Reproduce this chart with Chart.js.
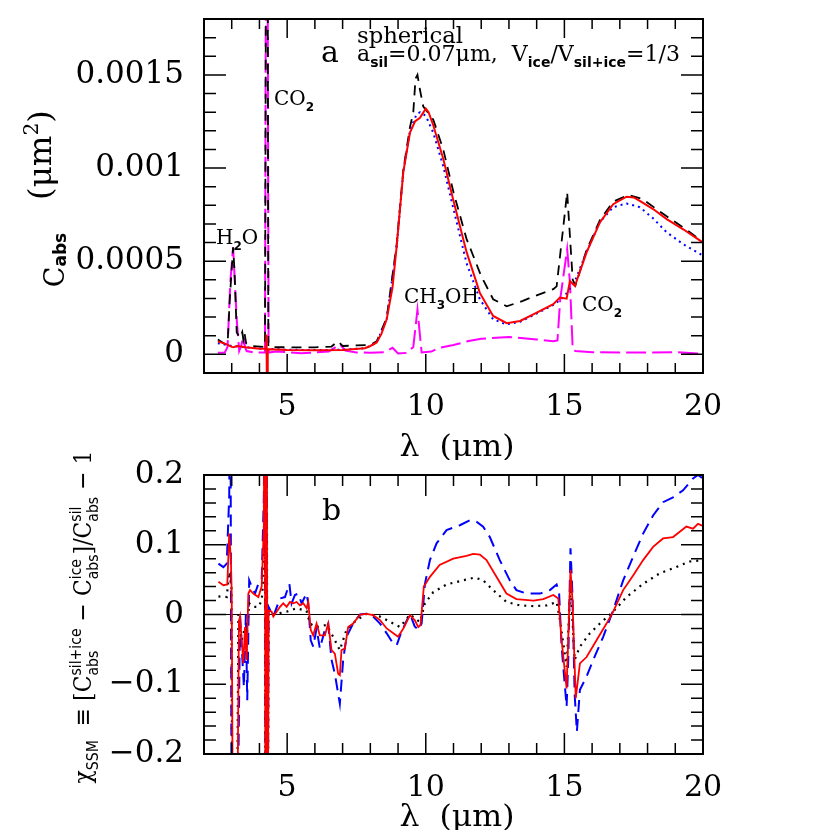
<!DOCTYPE html>
<html>
<head>
<meta charset="utf-8">
<script src="https://cdn.jsdelivr.net/npm/chart.js@4/dist/chart.umd.min.js"></script>
<style>
  body { margin: 0; background: #fff; width: 830px; height: 830px; overflow: hidden; position: relative; }
  #topWrap { position: absolute; left: 0; top: 0; width: 830px; height: 460px; }
  #botWrap { position: absolute; left: 0; top: 450px; width: 830px; height: 380px; }
</style>
</head>
<body>
<div id="topWrap"><canvas id="topChart" width="830" height="460"></canvas></div>
<div id="botWrap"><canvas id="botChart" width="830" height="380"></canvas></div>
<script>
// ---- panel a : C_abs (um^2) ----
const redTopX = [2.5, 2.8, 3.0, 3.06, 3.2, 3.5, 4.0, 4.23, 4.255, 4.275, 4.30, 5.0, 6.0, 7.0, 7.8, 8.0, 8.23, 8.4, 8.59, 8.8, 8.95, 9.19, 9.43, 9.61, 9.79, 9.92, 10.0, 10.1, 10.27, 10.63, 10.99, 11.47, 11.95, 12.43, 12.92, 13.4, 13.88, 14.6, 14.84, 15.08, 15.2, 15.38, 15.8, 16.28, 16.76, 17.24, 17.5, 17.72, 18.2, 18.69, 19.3, 20.0];
const redTopY = [0.70e-4, 0.55e-4, 0.40e-4, 0.38e-4, 0.45e-4, 0.38e-4, 0.30e-4, 0.30e-4, 1.07e-4, -3e-4, 0.28e-4, 0.23e-4, 0.22e-4, 0.24e-4, 0.33e-4, 0.45e-4, 0.64e-4, 1.1e-4, 1.88e-4, 3.6e-4, 5.8e-4, 9.8e-4, 11.9e-4, 12.5e-4, 12.7e-4, 13.0e-4, 13.2e-4, 13.0e-4, 12.3e-4, 10.5e-4, 8.3e-4, 5.5e-4, 3.3e-4, 2.06e-4, 1.67e-4, 1.79e-4, 2.15e-4, 2.69e-4, 3.05e-4, 2.99e-4, 3.94e-4, 3.67e-4, 5.47e-4, 7.08e-4, 8.06e-4, 8.46e-4, 8.42e-4, 8.24e-4, 7.8e-4, 7.26e-4, 6.7e-4, 6.0e-4];

const blackTopX = [2.5, 2.75, 2.85, 2.93, 3.05, 3.1, 3.18, 3.3, 3.38, 3.42, 3.46, 3.52, 3.7, 4.2, 4.25, 4.29, 4.32, 5.0, 6.0, 6.6, 6.83, 7.0, 7.5, 8.0, 8.23, 8.59, 8.95, 9.19, 9.43, 9.55, 9.63, 9.7, 9.79, 9.91, 10.27, 10.63, 11.0, 11.47, 12.0, 12.43, 12.92, 13.5, 14.0, 14.6, 14.72, 15.1, 15.3, 15.4, 15.8, 16.28, 16.76, 17.3, 17.8, 18.7, 19.3, 20.0];
const blackTopY = [0.80e-4, 0.55e-4, 0.55e-4, 2.96e-4, 5.75e-4, 4.5e-4, 1.18e-4, 0.9e-4, 1.2e-4, 0.8e-4, 1.15e-4, 0.6e-4, 0.45e-4, 0.4e-4, 30e-4, 30e-4, 0.4e-4, 0.38e-4, 0.38e-4, 0.42e-4, 0.7e-4, 0.45e-4, 0.48e-4, 0.5e-4, 0.7e-4, 1.95e-4, 5.9e-4, 9.9e-4, 12.2e-4, 13.0e-4, 14.8e-4, 15.0e-4, 14.2e-4, 13.3e-4, 12.6e-4, 11.0e-4, 8.7e-4, 6.2e-4, 4.2e-4, 2.96e-4, 2.58e-4, 2.87e-4, 3.17e-4, 3.5e-4, 3.65e-4, 8.7e-4, 4.0e-4, 3.7e-4, 5.6e-4, 7.2e-4, 8.2e-4, 8.55e-4, 8.35e-4, 7.4e-4, 6.8e-4, 6.04e-4];

const blueTopX = [2.5, 3.0, 3.5, 4.0, 5.0, 6.0, 7.0, 7.8, 8.0, 8.23, 8.59, 8.95, 9.19, 9.43, 9.67, 9.8, 10.0, 10.27, 10.63, 11.0, 11.47, 11.95, 12.43, 12.9, 13.4, 13.88, 14.6, 15.0, 15.4, 15.8, 16.28, 16.76, 17.24, 17.72, 18.2, 18.69, 19.3, 20.0];
const blueTopY = [0.6e-4, 0.45e-4, 0.38e-4, 0.32e-4, 0.25e-4, 0.23e-4, 0.25e-4, 0.33e-4, 0.45e-4, 0.64e-4, 1.9e-4, 5.8e-4, 9.8e-4, 12.0e-4, 12.9e-4, 13.0e-4, 12.8e-4, 11.9e-4, 10.1e-4, 7.8e-4, 4.9e-4, 2.96e-4, 1.88e-4, 1.61e-4, 1.75e-4, 2.1e-4, 2.65e-4, 3.1e-4, 4.0e-4, 5.5e-4, 7.1e-4, 7.9e-4, 8.1e-4, 7.9e-4, 7.3e-4, 6.55e-4, 5.9e-4, 5.3e-4];

const iceTopX = [2.5, 2.75, 2.85, 2.95, 3.05, 3.18, 3.27, 3.35, 3.42, 3.48, 3.54, 3.8, 4.2, 4.245, 4.28, 4.33, 4.6, 5.0, 5.5, 6.0, 6.5, 6.9, 7.1, 7.5, 8.0, 8.5, 8.8, 9.0, 9.3, 9.55, 9.7, 9.85, 10.2, 10.5, 11.0, 11.5, 12.0, 13.0, 14.0, 14.6, 14.75, 14.85, 15.1, 15.2, 15.3, 15.4, 16.0, 17.0, 18.0, 19.0, 19.8, 20.0];
const iceTopY = [0.09e-4, 0.1e-4, 0.4e-4, 3.9e-4, 5.75e-4, 1.88e-4, 0.18e-4, 0.5e-4, 0.98e-4, 0.4e-4, 0.18e-4, 0.1e-4, 0.1e-4, 30e-4, 30e-4, 0.1e-4, 0.15e-4, 0.12e-4, 0.06e-4, 0.1e-4, 0.15e-4, 0.54e-4, 0.2e-4, 0.1e-4, 0.09e-4, 0.12e-4, 0.35e-4, 0.05e-4, 0.08e-4, 0.4e-4, 2.4e-4, 0.1e-4, 0.15e-4, 0.36e-4, 0.5e-4, 0.7e-4, 0.84e-4, 0.93e-4, 0.8e-4, 0.7e-4, 0.75e-4, 2.96e-4, 5.65e-4, 3.86e-4, 0.27e-4, 0.18e-4, 0.12e-4, 0.1e-4, 0.1e-4, 0.12e-4, 0.05e-4, 0.18e-4];

// ---- panel b : chi_SSM ----
const redBotX = [2.52, 2.7, 2.84, 2.91, 2.97, 3.0, 3.05, 3.18, 3.26, 3.3, 3.36, 3.42, 3.48, 3.54, 3.6, 3.66, 3.78, 3.96, 4.08, 4.16, 4.19, 4.22, 4.26, 4.29, 4.33, 4.44, 4.5, 4.74, 4.86, 4.98, 5.1, 5.22, 5.34, 5.46, 5.58, 5.7, 5.76, 5.85, 5.94, 6.06, 6.18, 6.36, 6.48, 6.6, 6.72, 6.84, 6.9, 6.96, 7.08, 7.2, 7.38, 7.63, 7.87, 8.1, 8.35, 8.59, 8.83, 9.0, 9.19, 9.43, 9.6, 9.73, 9.81, 9.93, 10.15, 10.5, 10.99, 11.47, 11.71, 11.95, 12.19, 12.55, 12.91, 13.27, 13.88, 14.24, 14.6, 14.78, 14.9, 15.08, 15.22, 15.29, 15.41, 15.56, 15.8, 16.16, 16.52, 16.76, 17.12, 17.48, 17.84, 18.2, 18.56, 18.92, 19.4, 19.64, 19.82, 20.0];
const redBotY = [0.047, 0.042, 0.043, 0.116, 0.078, 0.03, -0.4, -0.4, -0.01, -0.003, -0.037, -0.07, -0.018, -0.065, 0.03, 0.035, 0.03, 0.025, 0.04, 0.126, 0.5, -0.5, 0.5, -0.5, 0.006, 0.004, -0.003, 0.011, 0.016, 0.011, 0.018, 0.016, 0.018, 0.013, 0.016, 0.009, 0.018, -0.022, -0.03, -0.013, -0.03, -0.03, -0.013, -0.051, -0.056, -0.085, -0.087, -0.051, -0.049, -0.018, -0.013, 0, 0.001, -0.001, -0.008, -0.02, -0.027, -0.032, -0.02, -0.001, -0.008, -0.018, -0.015, 0.04, 0.054, 0.071, 0.08, 0.084, 0.087, 0.086, 0.078, 0.054, 0.03, 0.022, 0.02, 0.022, 0.028, 0.023, -0.037, -0.106, 0.064, 0.021, -0.12, -0.07, -0.061, -0.037, -0.013, 0.004, 0.035, 0.056, 0.078, 0.097, 0.109, 0.111, 0.126, 0.123, 0.13, 0.127];

const blueBotX = [2.52, 2.7, 2.82, 2.91, 2.95, 3.0, 3.19, 3.3, 3.36, 3.44, 3.51, 3.56, 3.63, 3.72, 3.84, 3.96, 4.08, 4.16, 4.19, 4.22, 4.26, 4.29, 4.33, 4.5, 4.74, 4.92, 5.08, 5.16, 5.28, 5.4, 5.52, 5.7, 5.76, 5.85, 5.94, 6.06, 6.18, 6.36, 6.48, 6.6, 6.72, 6.9, 7.02, 7.14, 7.38, 7.63, 7.87, 8.1, 8.35, 8.59, 8.83, 8.95, 9.13, 9.43, 9.6, 9.73, 9.85, 9.97, 10.15, 10.39, 10.75, 11.23, 11.59, 11.83, 12.07, 12.31, 12.67, 13.03, 13.27, 13.63, 14.12, 14.48, 14.72, 14.81, 14.9, 15.08, 15.14, 15.22, 15.29, 15.37, 15.45, 15.56, 15.8, 16.04, 16.4, 16.76, 17.12, 17.48, 17.84, 18.2, 18.56, 18.92, 19.28, 19.64, 19.82, 20.0];
const blueBotY = [0.073, 0.068, 0.073, 0.17, 0.4, -0.4, -0.4, 0, -0.046, -0.104, 0, -0.123, 0.049, 0.04, 0.03, 0.044, 0.049, 0.17, 0.5, -0.5, 0.5, -0.5, 0.011, -0.003, 0.023, 0.025, 0.044, 0.016, 0.028, 0.03, 0.016, 0.03, 0.016, -0.037, -0.046, -0.02, -0.049, -0.022, -0.013, -0.065, -0.085, -0.128, -0.065, -0.032, -0.013, 0, 0.001, -0.003, -0.013, -0.027, -0.042, -0.044, -0.024, 0.001, -0.017, -0.022, -0.013, 0.044, 0.078, 0.102, 0.121, 0.128, 0.135, 0.133, 0.126, 0.111, 0.078, 0.049, 0.035, 0.03, 0.03, 0.035, 0.043, 0.03, -0.046, -0.132, -0.065, 0.095, 0.03, -0.114, -0.168, -0.108, -0.089, -0.065, -0.032, 0.006, 0.049, 0.083, 0.116, 0.142, 0.161, 0.168, 0.178, 0.195, 0.2, 0.195];

const blackBotX = [2.52, 2.82, 2.91, 2.99, 3.03, 3.18, 3.24, 3.36, 3.48, 3.54, 3.63, 3.78, 3.96, 4.08, 4.16, 4.19, 4.22, 4.26, 4.29, 4.33, 4.5, 4.98, 5.34, 5.7, 5.82, 6.06, 6.42, 6.66, 6.9, 7.14, 7.5, 7.87, 8.35, 8.83, 9.07, 9.43, 9.79, 9.97, 10.27, 10.75, 11.35, 11.77, 12.07, 12.43, 12.91, 13.39, 13.88, 14.36, 14.72, 14.84, 15.08, 15.22, 15.37, 15.56, 15.92, 16.28, 16.76, 17.24, 17.84, 18.44, 19.04, 19.52, 20.0];
const blackBotY = [0.026, 0.025, 0.061, 0.04, -0.4, -0.4, 0, -0.037, -0.018, -0.032, 0.016, 0.011, 0.011, 0.02, 0.06, 0.5, -0.5, 0.5, -0.5, 0.002, 0, 0.004, 0.009, 0.005, -0.013, -0.018, -0.015, -0.032, -0.051, -0.022, -0.008, 0.001, -0.003, -0.013, -0.018, 0, -0.011, 0.016, 0.032, 0.043, 0.049, 0.053, 0.049, 0.035, 0.018, 0.013, 0.012, 0.013, 0.018, -0.008, -0.075, 0.044, -0.065, -0.046, -0.027, -0.013, 0.004, 0.025, 0.044, 0.059, 0.068, 0.076, 0.078];

const zeroX = [2, 20];
const zeroY = [0, 0];

// ticks
const xMajorTicks = [5, 10, 15, 20];
const topMajorTicks = [0, 0.0005, 0.001, 0.0015];
const botMajorTicks = [-0.2, -0.1, 0, 0.1, 0.2];

const SERIF = 'DejaVu Serif';
const SANS = 'DejaVu Sans';

function pts(xs, ys) {
  return xs.map((x, i) => ({ x: x, y: ys[i] }));
}

function range(a, b, step) {
  const out = [];
  for (let v = a; v <= b + step / 10; v += step) out.push(Math.round(v / step) * step);
  return out;
}

// text with sub/superscripts. part = [text, kind], kind '' | 'b' (sub) | 'p' (sup); or [sup, sub, 'ps']
function drawRich(ctx, t) {
  const s = t.size;
  const subOff = t.subOff != null ? t.subOff : 0.28;
  const main = s + 'px "' + SERIF + '"';
  const small = (t.subBold ? 'bold ' : '') + Math.round(s * 0.62) + 'px "' + (t.subSans ? SANS : SERIF) + '"';
  const widths = t.parts.map(p => {
    if (p[p.length - 1] === 'ps') {
      ctx.font = small;
      return Math.max(ctx.measureText(p[0]).width, ctx.measureText(p[1]).width);
    }
    ctx.font = p[1] ? small : main;
    return ctx.measureText(p[0]).width;
  });
  const total = widths.reduce((a, b) => a + b, 0);
  ctx.save();
  ctx.translate(t.x, t.y);
  if (t.rot) ctx.rotate(t.rot);
  if (t.width) ctx.scale(t.width / total, 1);
  ctx.fillStyle = '#000';
  ctx.textBaseline = 'alphabetic';
  ctx.textAlign = 'left';
  let cx = t.align === 'center' ? -total / 2 : (t.align === 'right' ? -total : 0);
  t.parts.forEach((p, i) => {
    const kind = p[p.length - 1];
    if (kind === 'ps') {
      ctx.font = small;
      ctx.fillText(p[0], cx, -s * 0.42);
      ctx.fillText(p[1], cx, s * subOff);
    } else if (kind === 'b') {
      ctx.font = small;
      ctx.fillText(p[0], cx, s * subOff);
    } else if (kind === 'p') {
      ctx.font = small;
      ctx.fillText(p[0], cx, -s * 0.42);
    } else {
      ctx.font = main;
      ctx.fillText(p[0], cx, 0);
    }
    cx += widths[i];
  });
  ctx.restore();
}

const panelDeco = {
  id: 'panelDeco',
  afterDraw(chart, args, o) {
    const ctx = chart.ctx;
    const a = chart.chartArea;
    const xs = chart.scales.x, ys = chart.scales.y;
    ctx.save();
    ctx.strokeStyle = '#000';
    ctx.lineWidth = 1.5;
    ctx.beginPath();
    const xt = (vals, len) => vals.forEach(v => {
      const p = xs.getPixelForValue(v);
      ctx.moveTo(p, a.bottom); ctx.lineTo(p, a.bottom - len);
      ctx.moveTo(p, a.top); ctx.lineTo(p, a.top + len);
    });
    const yt = (vals, len) => vals.forEach(v => {
      const p = ys.getPixelForValue(v);
      ctx.moveTo(a.left, p); ctx.lineTo(a.left + len, p);
      ctx.moveTo(a.right, p); ctx.lineTo(a.right - len, p);
    });
    xt(o.xMinor, o.xMinorLen); xt(o.xMajor, o.xMajorLen);
    yt(o.yMinor, 12); yt(o.yMajor, 22);
    ctx.stroke();
    ctx.lineWidth = 2;
    ctx.strokeRect(a.left, a.top, a.width, a.height);
    o.texts.forEach(t => drawRich(ctx, t));
    ctx.restore();
  }
};

function lineSet(xs, ys, color, width, dash) {
  return {
    data: pts(xs, ys),
    borderColor: color,
    borderWidth: width,
    borderDash: dash,
    pointRadius: 0,
    tension: 0,
    fill: false
  };
}

function makeScales(yMin, yMax, yTicks, yFmt, xHeight) {
  return {
    x: {
      type: 'linear', min: 2, max: 20, position: 'bottom',
      grid: { display: false, drawTicks: false }, border: { display: false },
      afterBuildTicks: s => { s.ticks = xMajorTicks.map(v => ({ value: v })); },
      afterFit: s => { s.height = xHeight; s.paddingLeft = 0; s.paddingRight = 0; },
      ticks: { color: '#000', padding: 16, maxRotation: 0, autoSkip: false,
        font: { family: SERIF, size: 30 }, callback: v => String(v) }
    },
    y: {
      type: 'linear', min: yMin, max: yMax,
      grid: { display: false, drawTicks: false }, border: { display: false },
      afterBuildTicks: s => { s.ticks = yTicks.map(v => ({ value: v })); },
      afterFit: s => { s.width = 204; s.paddingTop = 0; s.paddingBottom = 0; },
      ticks: { color: '#000', padding: 20, autoSkip: false,
        font: { family: SERIF, size: 31 }, callback: yFmt }
    }
  };
}

const common = {
  responsive: false,
  animation: false,
  devicePixelRatio: 1,
  events: [],
  plugins: { legend: { display: false }, tooltip: { enabled: false } }
};

// top panel
new Chart(document.getElementById('topChart'), {
  type: 'line',
  data: {
    datasets: [
      lineSet(redTopX, redTopY, '#ff0000', 2, []),
      lineSet(blueTopX, blueTopY, '#0000ff', 2, [2, 4]),
      lineSet(blackTopX, blackTopY, '#000000', 1.8, [10, 7]),
      lineSet(iceTopX, iceTopY, '#ff00ff', 2, [20, 6])
    ]
  },
  options: Object.assign({}, common, {
    layout: { padding: { top: 19, right: 127, left: 0, bottom: 0 } },
    scales: makeScales(-0.0001, 0.0018, topMajorTicks, v => String(v), 87),
    plugins: Object.assign({}, common.plugins, {
      panelDeco: {
        xMajor: xMajorTicks, xMinor: range(3, 19, 1), xMajorLen: 19, xMinorLen: 10,
        yMajor: topMajorTicks, yMinor: range(-0.0001, 0.0018, 0.0001),
        texts: [
          { x: 321, y: 62, size: 30, parts: [['a', '']] },
          { x: 357, y: 43, size: 22, width: 106, parts: [['spherical', '']] },
          { x: 357, y: 61, size: 22, width: 323, subBold: true, subSans: true,
            parts: [['a', ''], ['sil', 'b'], ['=0.07μm,  V', ''], ['ice', 'b'], ['/V', ''], ['sil+ice', 'b'], ['=1/3', '']] },
          { x: 274, y: 105, size: 20, subBold: true, subSans: true, parts: [['CO', ''], ['2', 'b']] },
          { x: 216, y: 244, size: 20, subBold: true, subSans: true, parts: [['H', ''], ['2', 'b'], ['O', '']] },
          { x: 404, y: 303, size: 20, subBold: true, subSans: true, parts: [['CH', ''], ['3', 'b'], ['OH', '']] },
          { x: 582, y: 311, size: 20, subBold: true, subSans: true, parts: [['CO', ''], ['2', 'b']] },
          { x: 457, y: 456, size: 30, align: 'center', width: 115, parts: [['λ  (μm)', '']] },
          { x: 64, y: 260, size: 27, align: 'center', rot: -Math.PI / 2, subBold: true, subSans: true, subOff: 0.08,
            parts: [['C', ''], ['abs', 'b']] },
          { x: 51, y: 155, size: 32, align: 'center', width: 90, rot: -Math.PI / 2, parts: [['(μm', ''], ['2', 'p'], [')', '']] }
        ]
      }
    })
  }),
  plugins: [panelDeco]
});

// bottom panel
new Chart(document.getElementById('botChart'), {
  type: 'line',
  data: {
    datasets: [
      lineSet(redBotX, redBotY, '#ff0000', 1.8, []),
      lineSet(blackBotX, blackBotY, '#000000', 2.2, [2, 5]),
      lineSet(blueBotX, blueBotY, '#0000ff', 2, [12, 7]),
      lineSet(zeroX, zeroY, '#000000', 1.2, [])
    ]
  },
  options: Object.assign({}, common, {
    layout: { padding: { top: 25, right: 127, left: 0, bottom: 0 } },
    scales: makeScales(-0.2, 0.2, botMajorTicks, v => (v < 0 ? '\u2212' + Math.abs(v) : String(v)), 76),
    plugins: Object.assign({}, common.plugins, {
      panelDeco: {
        xMajor: xMajorTicks, xMinor: range(3, 19, 1), xMajorLen: 21, xMinorLen: 11,
        yMajor: botMajorTicks, yMinor: range(-0.2, 0.2, 0.02),
        texts: [
          { x: 322, y: 70, size: 30, parts: [['b', '']] },
          { x: 457, y: 376, size: 30, align: 'center', width: 115, parts: [['λ  (μm)', '']] },
          { x: 91, y: 167, size: 25, align: 'center', width: 333, rot: -Math.PI / 2, subSans: true,
            parts: [['χ', ''], ['SSM', 'b'], ['  ≡ [C', ''], ['sil+ice', 'abs', 'ps'], [' − C', ''], ['ice', 'abs', 'ps'], [']/C', ''], ['sil', 'abs', 'ps'], [' − 1', '']] }
        ]
      }
    })
  }),
  plugins: [panelDeco]
});
</script>
</body>
</html>
